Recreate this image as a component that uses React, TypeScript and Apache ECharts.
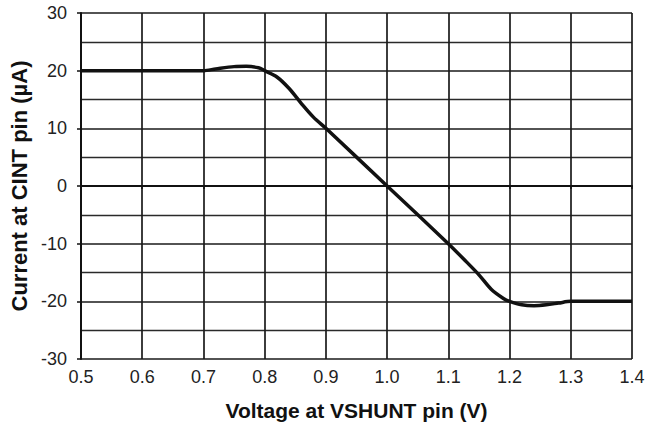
import React, { useEffect, useRef } from "react";
import * as echarts from "echarts";

const voltage = [0.5, 0.6, 0.7, 0.72, 0.75, 0.77, 0.79, 0.8, 0.82, 0.84, 0.86, 0.88, 0.9, 1.0, 1.1, 1.13, 1.15, 1.17, 1.19, 1.2, 1.22, 1.24, 1.26, 1.28, 1.3, 1.4];
const current = [20, 20, 20, 20.3, 20.7, 20.75, 20.5, 20, 18.9, 16.9, 14.3, 11.9, 10, 0, -10, -13.2, -15.4, -17.9, -19.5, -20, -20.6, -20.75, -20.6, -20.3, -20, -20];
const xTicks = [0.5, 0.6, 0.7, 0.8, 0.9, 1.0, 1.1, 1.2, 1.3, 1.4];
const yTicks = [-30, -20, -10, 0, 10, 20, 30];

export default function App() {
  const ref = useRef<HTMLDivElement>(null);
  useEffect(() => {
    if (!ref.current) return;
    const chart = echarts.init(ref.current, undefined, { renderer: "svg" });
    const font = "'Liberation Sans', Arial, Helvetica, sans-serif";
    chart.setOption({
      animation: false,
      backgroundColor: "#ffffff",
      grid: { left: 81, right: 14, top: 13, bottom: 68, outerBoundsMode: "none", containLabel: false },
      xAxis: {
        type: "value",
        min: 0.5,
        max: 1.4,
        interval: 0.1,
        name: "Voltage at VSHUNT pin (V)",
        nameLocation: "middle",
        nameGap: 41,
        nameTextStyle: { fontFamily: font, fontSize: 21, fontWeight: "bold", color: "#111" },
        axisLine: { show: true, lineStyle: { color: "#111", width: 2 } },
        axisTick: { show: true, inside: false, length: 3, lineStyle: { color: "#111", width: 1.5 } },
        axisLabel: {
          fontFamily: font,
          fontSize: 18,
          color: "#222",
          margin: 9,
          formatter: (v: number) => {
            const m = xTicks.find((t) => Math.abs(t - v) < 1e-6);
            return m !== undefined ? m.toFixed(1) : "";
          },
        },
        splitLine: { show: true, lineStyle: { color: "#1a1a1a", width: 1.7 } },
      },
      yAxis: {
        type: "value",
        min: -30,
        max: 30,
        interval: 10,
        name: "Current at CINT pin (\u00b5A)",
        nameLocation: "middle",
        nameGap: 46,
        nameTextStyle: { fontFamily: font, fontSize: 22, fontWeight: "bold", color: "#111" },
        axisLine: { show: true, lineStyle: { color: "#111", width: 2 } },
        axisTick: { show: true, inside: false, length: 4, lineStyle: { color: "#111", width: 1.5 } },
        axisLabel: {
          fontFamily: font,
          fontSize: 18,
          color: "#222",
          margin: 14,
          formatter: (v: number) => {
            const m = yTicks.find((t) => Math.abs(t - v) < 1e-6);
            return m !== undefined ? String(m) : "";
          },
        },
        splitLine: { show: true, lineStyle: { color: "#1a1a1a", width: 1.7 } },
        minorTick: { show: false, splitNumber: 2 },
        minorSplitLine: { show: true, lineStyle: { color: "#2a2a2a", width: 1.4 } },
      },
      series: [
        {
          type: "line",
          data: voltage.map((v, i) => [v, current[i]]),
          smooth: 0.3,
          showSymbol: false,
          symbol: "none",
          lineStyle: { color: "#111", width: 3.5 },
        },
      ],
    });
    return () => chart.dispose();
  }, []);
  return <div ref={ref} style={{ position: "absolute", left: 0, top: 0, width: 646, height: 427 }} />;
}
